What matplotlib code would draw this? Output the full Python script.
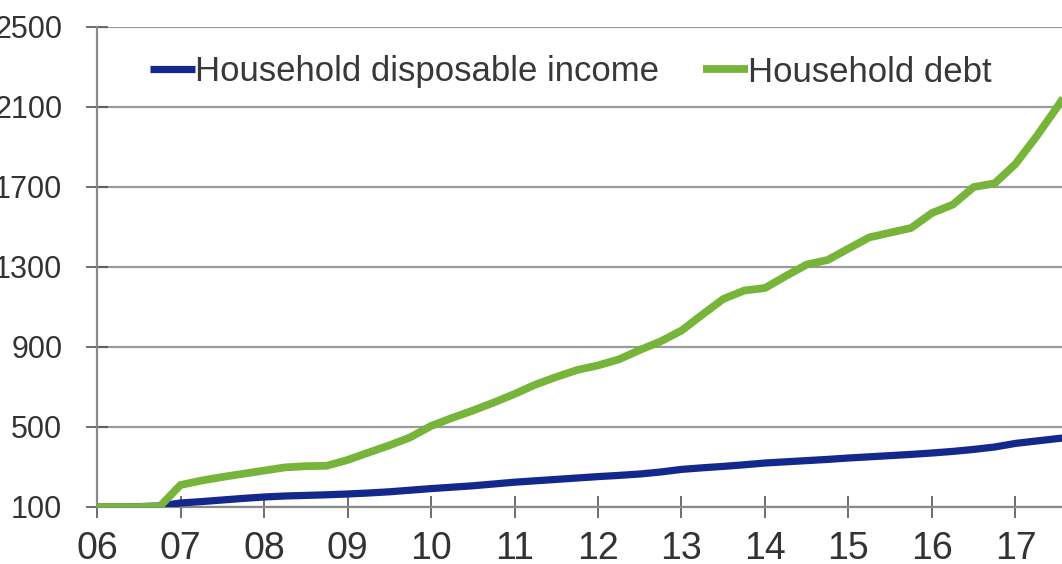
import numpy as np
import matplotlib
matplotlib.use("Agg")
import matplotlib.pyplot as plt

# quarterly index values, 2006Q1 = 100
quarters = np.arange(2006, 2018, 0.25)
income = [100, 100, 102, 105,
          120, 127, 135, 143,
          150, 155, 158, 161,
          165, 170, 176, 184,
          192, 199, 206, 215,
          224, 231, 238, 245,
          252, 258, 265, 275,
          288, 296, 303, 311,
          320, 326, 332, 338,
          345, 351, 357, 363,
          370, 378, 388, 400,
          418, 430, 442, 452]
debt = [100, 100, 100, 102,
        210, 232, 250, 266,
        282, 298, 304, 306,
        335, 372, 408, 448,
        505, 545, 582, 622,
        665, 712, 750, 785,
        808, 838, 885, 928,
        982, 1062, 1140, 1182,
        1195, 1255, 1312, 1335,
        1392, 1448, 1472, 1495,
        1570, 1612, 1700, 1718,
        1815, 1952, 2100, 2260]

year_ticks = list(range(2006, 2018))
year_labels = [f"{y % 100:02d}" for y in year_ticks]
value_ticks = [100, 500, 900, 1300, 1700, 2100, 2500]

plt.rcParams['font.family'] = ['Liberation Sans', 'DejaVu Sans']

fig = plt.figure(figsize=(10.62, 5.64), dpi=100)
W, H = 1062, 564
ax = fig.add_axes([97 / W, (H - 507) / H, 1 - 97 / W, 480 / H])

ax.plot(quarters, income, color='#13288c', lw=5.2, solid_capstyle='butt',
        label='Household disposable income', zorder=3)
ax.plot(quarters, debt, color='#77b43a', lw=5.6, solid_capstyle='butt',
        label='Household debt', zorder=4)

ax.set_xlim(2006, 2006 + (W - 97) / 83.5)
ax.set_ylim(100, 2500)
ax.set_xticks(year_ticks)
ax.set_xticklabels(year_labels)
ax.set_yticks(value_ticks)
ax.set_yticklabels([str(v) for v in value_ticks])

ax.grid(axis='y', color='#9a9a9a', lw=1.6, zorder=1)
for side in ['top', 'right']:
    ax.spines[side].set_visible(False)
ax.spines['left'].set_color('#8a8a8a')
ax.spines['left'].set_linewidth(1.6)
ax.spines['bottom'].set_color('#8a8a8a')
ax.spines['bottom'].set_linewidth(1.6)

ax.tick_params(axis='both', direction='inout', length=16, width=1.2,
               color='#555555', labelcolor='#333333')
ax.tick_params(axis='x', pad=9, labelsize=27)
ax.tick_params(axis='y', pad=17, labelsize=22)

leg = ax.legend(loc='center left', bbox_to_anchor=(150 / W, 1 - 72 / H),
                bbox_transform=fig.transFigure, ncol=2, frameon=False,
                fontsize=25, borderpad=0, borderaxespad=0,
                handlelength=1.3, handletextpad=0.0, columnspacing=1.25)
for t in leg.get_texts():
    t.set_color('#383838')

fig.savefig('out.png', dpi=100)
